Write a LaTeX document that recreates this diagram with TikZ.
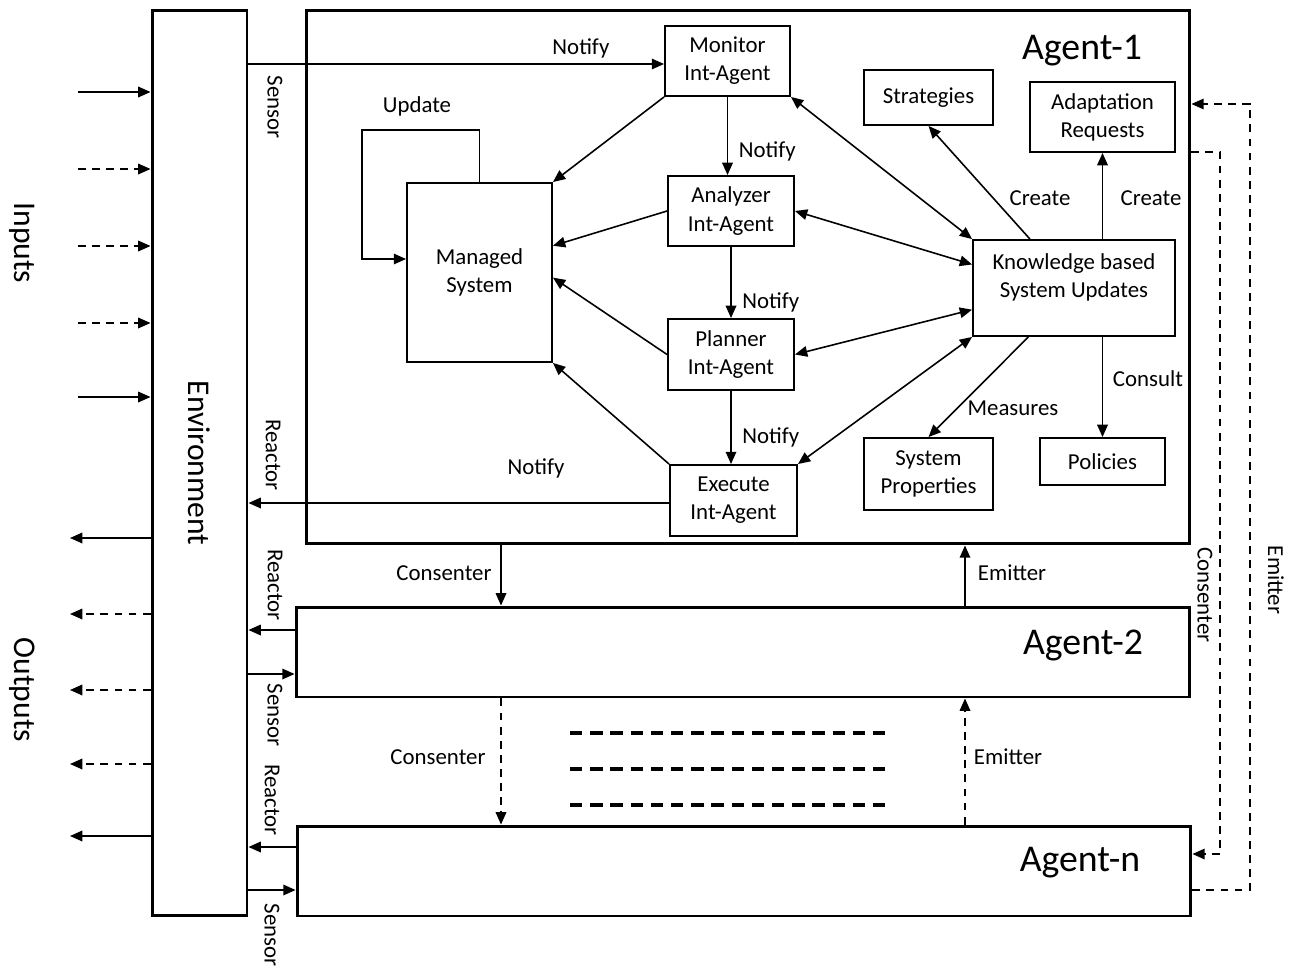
\documentclass[tikz,border=0pt]{standalone}
\usepackage{fontspec}
\setmainfont{Carlito}
\usepackage{graphicx}
\usetikzlibrary{arrows.meta,calc}

\tikzset{
  box/.style={draw, line width=1.1pt, align=center, inner sep=1pt,
    font=\fontsize{13}{16}\selectfont},
  frame/.style={draw, line width=1.7pt, inner sep=0pt},
  flow/.style={-{Triangle[length=7pt,width=6pt]}, line width=0.9pt},
  twoway/.style={{Triangle[length=7pt,width=6pt]}-{Triangle[length=7pt,width=6pt]},
    line width=0.9pt},
  dashy/.style={dash pattern=on 4.5pt off 3.5pt},
  txt/.style={font=\fontsize{13}{16}\selectfont, inner sep=1pt},
  vtxt/.style={txt, rotate=-90},
  big/.style={font=\fontsize{21.5}{25}\selectfont, inner sep=0pt},
}

\begin{document}
\begin{tikzpicture}[x=0.02cm,y=-0.02cm]
  \useasboundingbox (0,0) rectangle (1301,967);

  % outer frames
  \node [frame, minimum width=1.9cm, minimum height=18.12cm] (env) at (199.5,463)
    {\fontsize{18}{20}\selectfont\rotatebox{-90}{Environment}};
  \node [frame, minimum width=17.68cm, minimum height=10.68cm] (ag1) at (748,277) {};
  \node [frame, minimum width=17.88cm, minimum height=1.8cm] (ag2) at (743,652) {};
  \node [frame, minimum width=17.88cm, minimum height=1.8cm] (agn) at (744,871) {};
  \node [big] (ag1lbl) at (1082,51) {Agent-1};
  \node [big] (ag2lbl) at (1083,645) {Agent-2};
  \node [big] (agnlbl) at (1080,863) {Agent-n};

  % boxes of agent 1
  \node [box, minimum width=2.5cm, minimum height=1.4cm] (mon) at (727.5,61) {Monitor\\Int-Agent};
  \node [box, minimum width=2.52cm, minimum height=1.4cm] (ana) at (731,211) {Analyzer\\Int-Agent};
  \node [box, minimum width=2.52cm, minimum height=1.42cm] (pla) at (731,354.5) {Planner\\Int-Agent};
  \node [box, minimum width=2.54cm, minimum height=1.42cm] (exe) at (733.5,500.5) {Execute\\Int-Agent};
  \node [box, minimum width=2.9cm, minimum height=3.58cm] (mgd) at (479.5,272.5) {Managed\\System};
  \node [box, minimum width=2.58cm, minimum height=1.1cm] (str) at (928.5,97.5) {Strategies};
  \node [box, minimum width=2.9cm, minimum height=1.4cm] (adp) at (1102.5,117) {Adaptation\\Requests};
  \node [box, minimum width=4.04cm, minimum height=1.92cm, text depth=0.5cm] (kb) at (1074,288)
    {Knowledge based\\System Updates};
  \node [box, minimum width=2.58cm, minimum height=1.44cm] (spr) at (928.5,474) {System\\Properties};
  \node [box, minimum width=2.5cm, minimum height=0.94cm] (pol) at (1102.5,461.5) {Policies};

  % MAPE chain
  \draw [flow] (mon.south) -- node [txt, pos=0.7, right=5pt] {Notify} (mon.south |- ana.north);
  \draw [flow] (ana.south) -- node [txt, pos=0.78, right=5pt] {Notify} (ana.south |- pla.north);
  \draw [flow] (pla.south) -- node [txt, pos=0.64, right=5pt] {Notify} (pla.south |- exe.north);

  % to managed system
  \draw [flow] (mon.south west) -- (mgd.north east);
  \draw [flow] (ana.west) -- (mgd.20);
  \draw [flow] (pla.west) -- (mgd.-4);
  \draw [flow] (exe.north west) -- (mgd.south east);
  \draw [flow] (mgd.north) |- (362,130) |- (mgd.west |- 0,259);
  \node [txt] (updlbl) at (417,106) {Update};

  % knowledge base
  \draw [twoway] (mon.south east) -- (kb.north west);
  \draw [twoway] (ana.east) -- (kb.167);
  \draw [twoway] (pla.east) -- (kb.192);
  \draw [twoway] (exe.north east) -- (kb.south west);
  \draw [flow] (kb.132.5) -- (str.south);
  \draw [flow] (adp.south |- kb.north) -- (adp.south);
  \draw [flow] (kb.227.5) -- (spr.north);
  \draw [flow] (pol.north |- kb.south) -- (pol.north);
  \node [txt] (cr1) at (1040,198) {Create};
  \node [txt] (cr2) at (1151,198) {Create};
  \node [txt] (msr) at (1013,408) {Measures};
  \node [txt] (cns) at (1148,379) {Consult};

  % environment links of agent 1
  \draw [flow] (env.east |- 0,64) -- node [txt, pos=0.8, above=2pt] {Notify} (mon.west |- 0,64);
  \draw [flow] (exe.west |- 0,503) -- (env.east |- 0,503);
  \node [txt] (ntf) at (536,468) {Notify};
  \node [vtxt] (sen1) at (275,107) {Sensor};
  \node [vtxt] (rea1) at (273,455) {Reactor};

  % environment links of agent 2 and agent n
  \draw [flow] (ag2.west |- 0,630) -- (env.east |- 0,630);
  \draw [flow] (env.east |- 0,674) -- (ag2.west |- 0,674);
  \draw [flow] (agn.west |- 0,847) -- (env.east |- 0,847);
  \draw [flow] (env.east |- 0,890) -- (agn.west |- 0,890);
  \node [vtxt] (rea2) at (275,585) {Reactor};
  \node [vtxt] (sen2) at (275,715) {Sensor};
  \node [vtxt] (rean) at (272,800) {Reactor};
  \node [vtxt] (senn) at (272,935) {Sensor};

  % between agents
  \draw [flow] (ag1.south -| 501,0) -- (ag2.north -| 501,0);
  \draw [flow] (ag2.north -| 965,0) -- (ag1.south -| 965,0);
  \draw [flow, dashy] (ag2.south -| 501,0) -- (agn.north -| 501,0);
  \draw [flow, dashy] (agn.north -| 965,0) -- (ag2.south -| 965,0);
  \node [txt] (cs1) at (444,573) {Consenter};
  \node [txt] (em1) at (1012,573) {Emitter};
  \node [txt] (cs2) at (438,757) {Consenter};
  \node [txt] (em2) at (1008,757) {Emitter};
  \foreach \y in {733,769,805}
    \draw [line width=1.8pt, dash pattern=on 7pt off 4.5pt] (570,\y) -- (885,\y);

  % feedback from agent n
  \draw [flow, dashy] (agn.east |- 0,890) -| (1250,104) -- (ag1.east |- 0,104);
  \draw [flow, dashy] (ag1.east |- 0,152) -| (1220,854) -- (agn.east |- 0,854);
  \node [vtxt] (cs3) at (1205,595) {Consenter};
  \node [vtxt] (em3) at (1276,580) {Emitter};

  % inputs and outputs
  \foreach \y/\s in {92/solid,169/dashy,246/dashy,323/dashy,397/solid} {
    \coordinate (in) at (78,\y);
    \draw [flow, \s] (in) -- (in -| env.west);
  }
  \foreach \y/\s in {538/solid,614/dashy,690/dashy,764/dashy,836/solid} {
    \coordinate (out) at (70,\y);
    \draw [flow, \s] (out -| env.west) -- (out);
  }
  \node [font=\fontsize{18}{20}\selectfont, rotate=-90] (inp) at (22,243) {Inputs};
  \node [font=\fontsize{18}{20}\selectfont, rotate=-90] (outp) at (22,690) {Outputs};
\end{tikzpicture}
\end{document}
